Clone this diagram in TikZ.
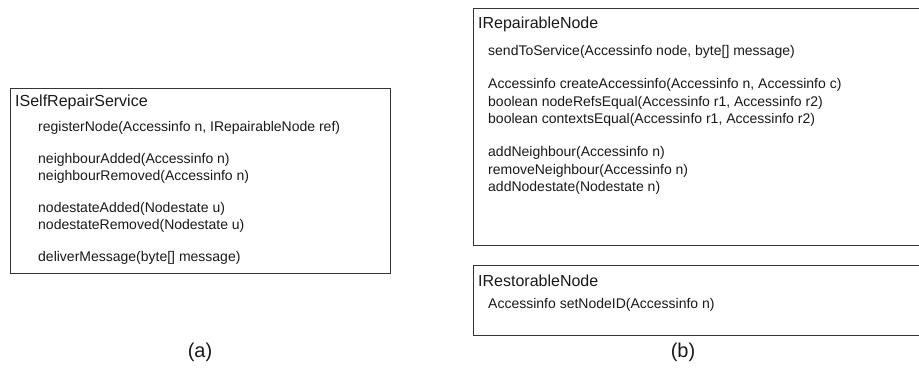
\documentclass[tikz,border=0pt]{standalone}
\usepackage{fontspec}
\setmainfont{Liberation Sans}
\begin{document}
\begin{tikzpicture}[x=1pt,y=-1pt,
 box/.style={draw=black!80, line width=1.3pt, rectangle, anchor=north west, inner sep=0pt},
 ttl/.style={anchor=base west, inner sep=0pt, text=black!90, font=\fontsize{16}{19}\selectfont},
 mth/.style={anchor=base west, inner sep=0pt, text=black!90, font=\fontsize{14}{17}\selectfont},
 captxt/.style={inner sep=0pt, text=black!90, font=\fontsize{20}{24}\selectfont}]
\useasboundingbox (0,0) rectangle (919,380);
\clip (0,0) rectangle (919,380);
% (a)
\node[box, minimum width=380pt, minimum height=185pt] (boxa) at (10,88) {};
\node[ttl] (ta) at (15,106) {ISelfRepairService};
\node[mth] (a1) at (38,131) {registerNode(Accessinfo n, IRepairableNode ref)};
\node[mth] (a2) at (38,163) {neighbourAdded(Accessinfo n)};
\node[mth] (a3) at (38,180) {neighbourRemoved(Accessinfo n)};
\node[mth] (a4) at (38,212) {nodestateAdded(Nodestate u)};
\node[mth] (a5) at (38,229) {nodestateRemoved(Nodestate u)};
\node[mth] (a6) at (38,261) {deliverMessage(byte[] message)};
\node[captxt] (capa) at (200,352) {(a)};
% (b)
\node[box, minimum width=470pt, minimum height=237pt] (boxb) at (473,8) {};
\node[ttl] (tb) at (478,28) {IRepairableNode};
\node[mth] (b1) at (488,55) {sendToService(Accessinfo node, byte[] message)};
\node[mth] (b2) at (488,88) {Accessinfo createAccessinfo(Accessinfo n, Accessinfo c)};
\node[mth] (b3) at (488,106) {boolean nodeRefsEqual(Accessinfo r1, Accessinfo r2)};
\node[mth] (b4) at (488,123) {boolean contextsEqual(Accessinfo r1, Accessinfo r2)};
\node[mth] (b5) at (488,156) {addNeighbour(Accessinfo n)};
\node[mth] (b6) at (488,174) {removeNeighbour(Accessinfo n)};
\node[mth] (b7) at (488,191) {addNodestate(Nodestate n)};
\node[box, minimum width=470pt, minimum height=70pt] (boxc) at (473,265) {};
\node[ttl] (tc) at (478,286) {IRestorableNode};
\node[mth] (c1) at (488,308) {Accessinfo setNodeID(Accessinfo n)};
\node[captxt] (capb) at (683,352) {(b)};
\end{tikzpicture}
\end{document}
